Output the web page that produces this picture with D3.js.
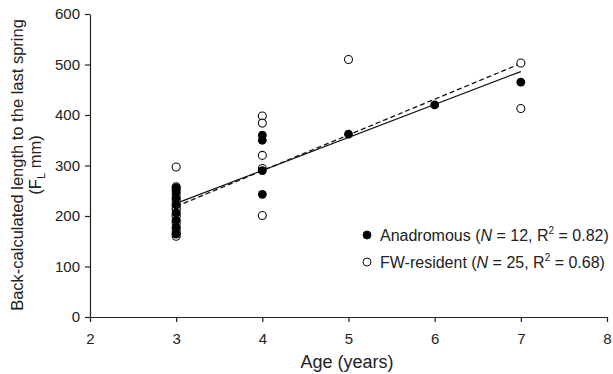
<!DOCTYPE html>
<html><head><meta charset="utf-8">
<script src="https://cdn.jsdelivr.net/npm/d3@7"></script>
<style>body{margin:0;background:#fff;overflow:hidden} text{font-family:"Liberation Sans",Arial,sans-serif;}</style>
</head><body>
<svg id="c" width="613" height="374"></svg>
<script>
const xTicks = [2,3,4,5,6,7,8];
const yTicks = [0,100,200,300,400,500,600];
const anaAge = [3,3,3,3,3,3,3,3,4,4,4,4,5,6,7];
const anaLen = [164,178,192,206,222,236,248,256,243,290,350,360,362,420,465];
const fwAge = [3,3,3,3,3,3,3,3,3,3,3,3,3,3,3,3,3,4,4,4,4,4,5,7,7];
const fwLen = [297,258,252,243,234,229,222,216,212,203,199,190,185,176,171,166,160,398,384,320,294,201,510,503,413];
const anaFit = [[3,225],[7,486]];
const fwFit = [[3,219],[7,502]];

const svg = d3.select("#c");
const x = d3.scaleLinear().domain([2,8]).range([90,607]);
const y = d3.scaleLinear().domain([0,600]).range([317,14]);
const ink = "#222";

const xa = svg.append("g").attr("transform","translate(0,317)")
  .call(d3.axisBottom(x).tickValues(xTicks).tickFormat(d3.format("d")).tickSize(5).tickSizeOuter(0).tickPadding(11));
const ya = svg.append("g").attr("transform","translate(90,0)")
  .call(d3.axisLeft(y).tickValues(yTicks).tickFormat(d3.format("d")).tickSize(5).tickSizeOuter(0).tickPadding(5));
[xa,ya].forEach(a=>{
  a.select(".domain").attr("stroke",ink).attr("stroke-width",1.2);
  a.selectAll(".tick line").attr("stroke",ink).attr("stroke-width",1.2);
  a.selectAll(".tick text").attr("fill",ink).style("font-size","15px")
    .style("font-family","'Liberation Sans',Arial,sans-serif");
});

const line = d3.line().x(d=>x(d[0])).y(d=>y(d[1]));
svg.append("path").attr("d",line(anaFit)).attr("stroke","#111").attr("stroke-width",1.2).attr("fill","none");
svg.append("path").attr("d",line(fwFit)).attr("stroke","#111").attr("stroke-width",1.3)
  .attr("stroke-dasharray","5,3").attr("fill","none");

svg.append("g").selectAll("circle").data(fwAge.map((a,i)=>[a,fwLen[i]])).join("circle")
  .attr("cx",d=>x(d[0])).attr("cy",d=>y(d[1])).attr("r",4)
  .attr("fill","#fff").attr("stroke","#111").attr("stroke-width",1.1);
svg.append("g").selectAll("circle").data(anaAge.map((a,i)=>[a,anaLen[i]])).join("circle")
  .attr("cx",d=>x(d[0])).attr("cy",d=>y(d[1])).attr("r",4.4)
  .attr("fill","#000");

// axis titles
svg.append("text").attr("x",347).attr("y",368).attr("text-anchor","middle")
  .attr("fill",ink).style("font-size","18px").text("Age (years)");
const yl = svg.append("g").attr("transform","translate(0,165) rotate(-90)");
yl.append("text").attr("x",0).attr("y",23).attr("text-anchor","middle").attr("fill",ink)
  .style("font-size","16.5px").text("Back-calculated length to the last spring");
const t2 = yl.append("text").attr("x",0).attr("y",41).attr("text-anchor","middle").attr("fill",ink)
  .style("font-size","16.5px");
t2.append("tspan").text("(F");
t2.append("tspan").attr("dy",4).style("font-size","11px").text("L");
t2.append("tspan").attr("dy",-4).text(" mm)");

// legend
const leg = [{lab:"Anadromous", n:12, r:"0.82", fill:"#000"},{lab:"FW-resident", n:25, r:"0.68", fill:"#fff"}];
leg.forEach((l,i)=>{
  const yy = 235 + i*27;
  svg.append("circle").attr("cx",367).attr("cy",yy).attr("r",4)
    .attr("fill",l.fill).attr("stroke","#111").attr("stroke-width",1);
  const t = svg.append("text").attr("x",380).attr("y",yy+6).attr("fill",ink).style("font-size","16px");
  t.append("tspan").text(l.lab+" (");
  t.append("tspan").style("font-style","italic").text("N");
  t.append("tspan").text(" = "+l.n+", R");
  t.append("tspan").attr("dy",-7).style("font-size","10px").text("2");
  t.append("tspan").attr("dy",7).text(" = "+l.r+")");
});
</script>
</body></html>
